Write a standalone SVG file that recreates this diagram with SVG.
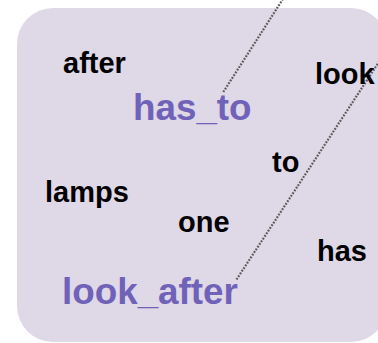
<svg xmlns="http://www.w3.org/2000/svg" width="378" height="343" viewBox="0 0 378 343">
<style>
.bg{fill:#dfd8e6}
.w{font-family:"Liberation Sans",Arial,sans-serif;font-weight:bold;font-size:29px;fill:#000}
.p{font-family:"Liberation Sans",Arial,sans-serif;font-weight:bold;font-size:36.8px;fill:#7062b8}
.c{stroke:#5a5a5a;stroke-width:2.2;stroke-dasharray:1.8 1.4;fill:none}
</style>
<rect class="bg" x="17" y="8" width="370" height="334" rx="36" ry="36"/>
<g id="connectors">
<line class="c" x1="223.3" y1="92" x2="290" y2="-12"/>
<line class="c" x1="236.5" y1="279.5" x2="392" y2="42"/>
</g>
<g id="after"><text class="w" x="63" y="73">after</text></g>
<g id="has_to"><text class="p" x="133" y="120">has_to</text></g>
<g id="look"><text class="w" x="315" y="84">look</text></g>
<g id="to"><text class="w" x="272" y="172">to</text></g>
<g id="lamps"><text class="w" x="45" y="202">lamps</text></g>
<g id="one"><text class="w" x="178" y="232">one</text></g>
<g id="has"><text class="w" x="317" y="261">has</text></g>
<g id="look_after"><text class="p" x="62" y="304">look_after</text></g>
</svg>
